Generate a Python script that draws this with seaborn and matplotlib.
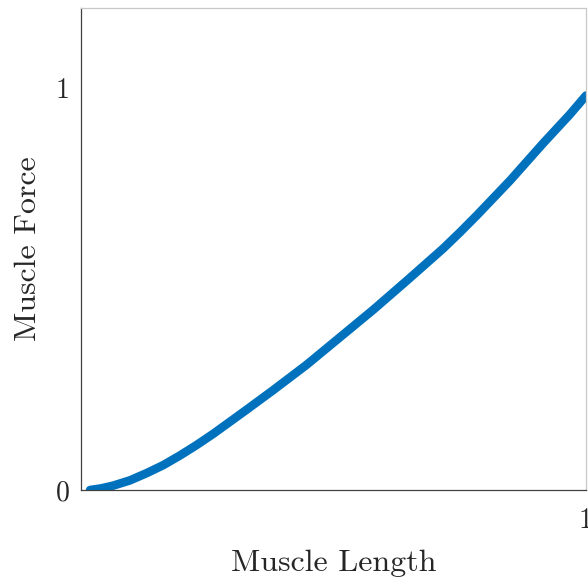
import matplotlib
matplotlib.use("Agg")
import matplotlib.pyplot as plt
import seaborn as sns
import pandas as pd

# Normalised muscle force-length curve
muscle_length = [0.018, 0.040, 0.064, 0.097, 0.130, 0.163, 0.196, 0.229, 0.262,
                 0.295, 0.328, 0.381, 0.447, 0.500, 0.579, 0.645, 0.717, 0.750,
                 0.784, 0.850, 0.915, 0.968, 1.0]
muscle_force = [0.0, 0.004, 0.011, 0.024, 0.042, 0.062, 0.086, 0.112, 0.140,
                0.170, 0.200, 0.249, 0.312, 0.367, 0.449, 0.521, 0.601, 0.641,
                0.684, 0.771, 0.863, 0.935, 0.982]

x_ticks = [0.5, 1.0]
x_tick_labels = ["", "1"]
y_ticks = [0.0, 0.5, 1.0]
y_tick_labels = ["0", "", "1"]

sns.set_theme(style="white")
plt.rcParams["font.family"] = ["cmr10", "DejaVu Serif"]
plt.rcParams["axes.formatter.use_mathtext"] = True

df = pd.DataFrame({"Muscle Length": muscle_length, "Muscle Force": muscle_force})

fig = plt.figure(figsize=(5.88, 5.79), dpi=100)
ax = fig.add_axes([81 / 588, 89 / 579, 505 / 588, 482 / 579])

sns.lineplot(data=df, x="Muscle Length", y="Muscle Force", ax=ax,
             color="#0072BD", linewidth=6.2, solid_capstyle="round",
             solid_joinstyle="round")

ax.set_xlim(0, 1)
ax.set_ylim(0, 1.2)
ax.set_xticks(x_ticks)
ax.set_xticklabels(x_tick_labels)
ax.set_yticks(y_ticks)
ax.set_yticklabels(y_tick_labels)

ax.tick_params(axis="both", direction="in", length=4, width=0.8,
               color="#404040", labelsize=20, labelcolor="#262626")
ax.tick_params(axis="x", pad=13)
ax.tick_params(axis="y", pad=8)

for side in ("left", "bottom"):
    ax.spines[side].set_color("#404040")
    ax.spines[side].set_linewidth(0.9)
for side in ("top", "right"):
    ax.spines[side].set_color("#c8c8c8")
    ax.spines[side].set_linewidth(0.9)

ax.set_xlabel("Muscle Length", fontsize=23, color="#262626", labelpad=11)
ax.set_ylabel("Muscle Force", fontsize=23, color="#262626", labelpad=10)

fig.savefig("out.png", dpi=100)
